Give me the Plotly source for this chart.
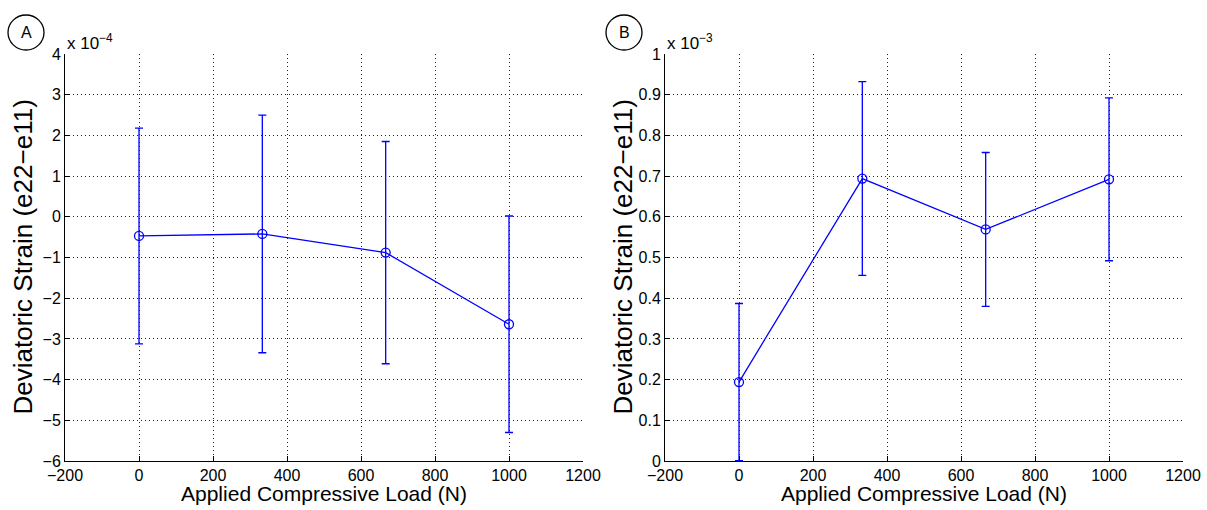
import plotly.graph_objects as go

# Applied compressive load (N)
load = [0, 333.3, 666.7, 1000]

# Panel A: deviatoric strain, in units of 1e-4
strain_a = [-0.47, -0.42, -0.88, -2.64]
err_a = [2.65, 2.92, 2.73, 2.66]

# Panel B: deviatoric strain, in units of 1e-3
strain_b = [0.194, 0.694, 0.569, 0.692]
err_b = [0.193, 0.238, 0.189, 0.200]

x_ticks = [-200, 0, 200, 400, 600, 800, 1000, 1200]
y_ticks_a = [-6, -5, -4, -3, -2, -1, 0, 1, 2, 3, 4]
y_ticks_b = [0, 0.1, 0.2, 0.3, 0.4, 0.5, 0.6, 0.7, 0.8, 0.9, 1]
y_ticktext_b = ["0", "0.1", "0.2", "0.3", "0.4", "0.5", "0.6", "0.7", "0.8", "0.9", "1"]

BLUE = "#0000ff"
FONT = "Liberation Sans, Arial, Helvetica, sans-serif"

W, H = 1207, 510
ML, MR, MT, MB = 65, 24, 54, 49
PW, PH = W - ML - MR, H - MT - MB


def px_x(px):
    return (px - ML) / PW


def px_y(py):
    return (H - MB - py) / PH


def minus(v):
    return str(v).replace("-", "\u2212")


fig = go.Figure()

for i, (ys, es) in enumerate([(strain_a, err_a), (strain_b, err_b)]):
    fig.add_trace(go.Scatter(
        x=load, y=ys,
        mode="lines+markers",
        line=dict(color=BLUE, width=1.3),
        marker=dict(symbol="circle-open", size=9, color=BLUE, line=dict(width=1.3)),
        error_y=dict(type="data", array=es, visible=True, color=BLUE, thickness=1.3, width=4),
        xaxis="x" if i == 0 else "x2",
        yaxis="y" if i == 0 else "y2",
        showlegend=False,
        cliponaxis=True,
    ))

axis_common = dict(
    showline=True, linecolor="black", linewidth=1,
    ticks="inside", ticklen=5, tickcolor="black", tickwidth=1,
    showgrid=True, gridcolor="#222222", gridwidth=1, griddash="1px,3px",
    zeroline=False, mirror=False, automargin=False,
    tickfont=dict(family=FONT, size=16, color="black"),
)

fig.update_layout(
    width=W, height=H,
    margin=dict(l=ML, r=MR, t=MT, b=MB, autoexpand=False),
    paper_bgcolor="white", plot_bgcolor="white",
    xaxis=dict(domain=[0, px_x(583)], range=[-200, 1200], tickvals=x_ticks,
               ticktext=[minus(v) for v in x_ticks], anchor="y", **axis_common),
    yaxis=dict(domain=[0, 1], range=[-6, 4], tickvals=y_ticks_a,
               ticktext=[minus(v) for v in y_ticks_a], anchor="x", **axis_common),
    xaxis2=dict(domain=[px_x(665), 1], range=[-200, 1200], tickvals=x_ticks,
                ticktext=[minus(v) for v in x_ticks], anchor="y2", **axis_common),
    yaxis2=dict(domain=[0, 1], range=[0, 1], tickvals=y_ticks_b, ticktext=y_ticktext_b,
                anchor="x2", **axis_common),
)

annotations = []
for left, right, exp_txt in [(65, 583, "\u22124"), (665, 1183, "\u22123")]:
    # x-axis title
    annotations.append(dict(
        text="Applied Compressive Load (N)", xref="paper", yref="paper",
        x=px_x((left + right) / 2), y=px_y(493), xanchor="center", yanchor="middle",
        showarrow=False, font=dict(family=FONT, size=21, color="black")))
    # y-axis title
    annotations.append(dict(
        text="Deviatoric Strain (e22\u2212e11)", xref="paper", yref="paper",
        x=px_x(left - 43), y=0.5, xanchor="center", yanchor="middle", textangle=-90,
        showarrow=False, font=dict(family=FONT, size=26, color="black")))
    # exponent multiplier
    annotations.append(dict(
        text=f"x 10<sup>{exp_txt}</sup>", xref="paper", yref="paper",
        x=px_x(left), y=px_y(42), xanchor="left", yanchor="middle",
        showarrow=False, font=dict(family=FONT, size=17, color="black")))

# Panel letters in circles
shapes = []
for cx, letter in [(26, "A"), (624, "B")]:
    shapes.append(dict(
        type="circle", xref="paper", yref="paper",
        x0=px_x(cx - 18), x1=px_x(cx + 18), y0=px_y(50), y1=px_y(15),
        line=dict(color="black", width=1.3)))
    annotations.append(dict(
        text=letter, xref="paper", yref="paper", x=px_x(cx), y=px_y(32.5),
        xanchor="center", yanchor="middle", showarrow=False,
        font=dict(family=FONT, size=16, color="black")))

fig.update_layout(annotations=annotations, shapes=shapes)

fig.write_html("out.html")
